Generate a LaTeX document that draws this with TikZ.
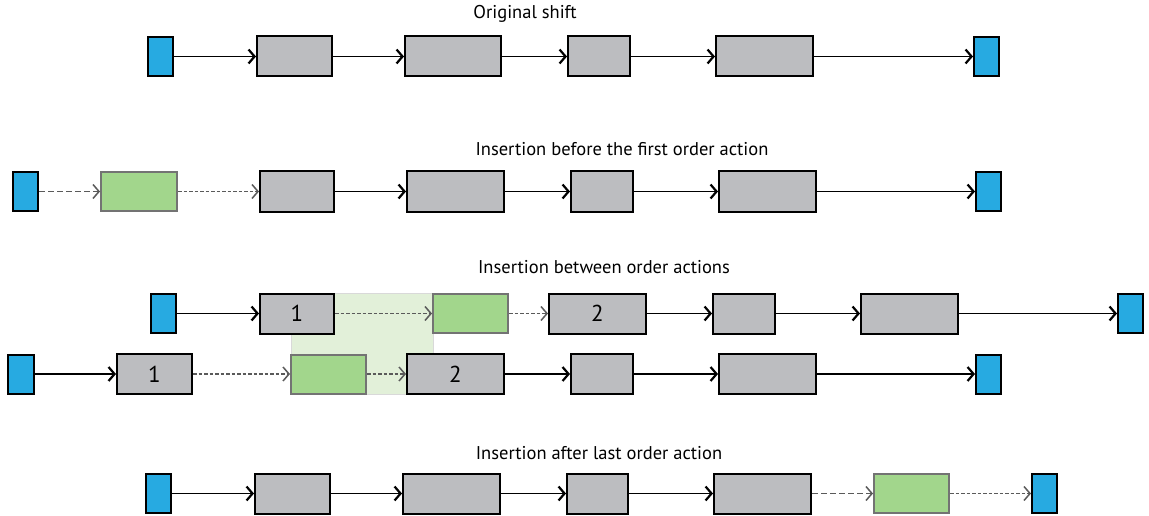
\documentclass[tikz,border=0pt]{standalone}
\usepackage{fontspec}
\setmainfont{PT Sans}
\usetikzlibrary{arrows.meta}
\definecolor{bblue}{HTML}{27AAE1}
\definecolor{bgray}{HTML}{BCBDC0}
\definecolor{bgreen}{HTML}{A2D68C}
\definecolor{bgbox}{HTML}{E2F0D9}
\definecolor{dgray}{HTML}{5A5A5A}
\tikzset{
  base/.style={rectangle, inner sep=0pt, line width=2pt, draw=black},
  blu/.style={base, fill=bblue, minimum width=25, minimum height=39},
  gbox/.style={base, fill=bgray, minimum height=40, font=\fontsize{23}{25}\selectfont},
  grn/.style={base, fill=bgreen, draw=black!55, minimum width=75, minimum height=39},
  title/.style={font=\fontsize{18.5}{20}\selectfont, inner sep=0pt},
  arr/.style={line width=1.8pt, -{Straight Barb[length=6pt,width=14pt,line width=2.2pt]}},
  darr/.style={line width=1.5pt, draw=dgray, dash pattern=on 5.5pt off 3.5pt, -{Straight Barb[length=6pt,width=14pt,line width=1.5pt]}},
  farr/.style={line width=1.5pt, draw=dgray, dash pattern=on 3.5pt off 2pt, -{Straight Barb[length=6pt,width=14pt,line width=1.5pt]}},
}
\begin{document}
\begin{tikzpicture}[x=1pt,y=-1pt]
\useasboundingbox (0,0) rectangle (1149,516);
% titles
\node[title] (t1) at (525,14) {Original shift};
\node[title] (t2) at (622,149) {Insertion before the first order action};
\node[title] (t3) at (604,267) {Insertion between order actions};
\node[title] (t4) at (599,453) {Insertion after last order action};
% row 1
\node[blu] (a0) at (160.5,56.5) {};
\node[gbox, minimum width=75] (a1) at (294.5,56.5) {};
\node[gbox, minimum width=96] (a2) at (453,56.5) {};
\node[gbox, minimum width=62] (a3) at (599,56.5) {};
\node[gbox, minimum width=97] (a4) at (764.5,56.5) {};
\node[blu] (a5) at (986.5,56.5) {};
\draw[arr] (a0) -- (a1);
\draw[arr] (a1) -- (a2);
\draw[arr] (a2) -- (a3);
\draw[arr] (a3) -- (a4);
\draw[arr] (a4) -- (a5);
% row 2
\node[blu] (b0) at (25.5,191.5) {};
\node[grn, minimum width=76] (bn) at (139,191.5) {};
\node[gbox, minimum width=74] (b1) at (297,191.5) {};
\node[gbox, minimum width=97] (b2) at (455.5,191.5) {};
\node[gbox, minimum width=62] (b3) at (602,191.5) {};
\node[gbox, minimum width=97] (b4) at (767.5,191.5) {};
\node[blu] (b5) at (988.5,191.5) {};
\draw[darr] (b0) -- (bn);
\draw[farr] (bn) -- (b1);
\draw[arr] (b1) -- (b2);
\draw[arr] (b2) -- (b3);
\draw[arr] (b3) -- (b4);
\draw[arr] (b4) -- (b5);
% background highlight
\node[rectangle, fill=bgbox, draw=black!15, line width=1pt, minimum width=142, minimum height=101, inner sep=0pt] (hl) at (362,343.5) {};
% row 3a
\node[blu] (c0) at (163.5,313.5) {};
\node[gbox, minimum width=74] (c1) at (297,313.5) {1};
\node[grn] (cn) at (470.5,313.5) {};
\node[gbox, minimum width=97] (c2) at (597.5,313.5) {2};
\node[gbox, minimum width=62] (c3) at (744,313.5) {};
\node[gbox, minimum width=97] (c4) at (909.5,313.5) {};
\node[blu] (c5) at (1130.5,313.5) {};
\draw[arr] (c0) -- (c1);
\draw[farr] (c1) -- (cn);
\draw[farr] (cn) -- (c2);
\draw[arr] (c2) -- (c3);
\draw[arr] (c3) -- (c4);
\draw[arr] (c4) -- (c5);
% row 3b
\node[blu, minimum width=26] (d0) at (21,374) {};
\node[gbox, minimum width=75] (d1) at (154.5,374) {1};
\node[grn] (dn) at (328.5,374) {};
\node[gbox, minimum width=97] (d2) at (455.5,374) {2};
\node[gbox, minimum width=62] (d3) at (602,374) {};
\node[gbox, minimum width=97] (d4) at (767.5,374) {};
\node[blu] (d5) at (988.5,374) {};
\draw[arr] (d0) -- (d1);
\draw[farr] (d1) -- (dn);
\draw[farr] (dn) -- (d2);
\draw[arr] (d2) -- (d3);
\draw[arr] (d3) -- (d4);
\draw[arr] (d4) -- (d5);
% row 4
\node[blu] (e0) at (158.5,493.5) {};
\node[gbox, minimum width=75] (e1) at (292.5,493.5) {};
\node[gbox, minimum width=97] (e2) at (451.5,493.5) {};
\node[gbox, minimum width=61] (e3) at (597.5,493.5) {};
\node[gbox, minimum width=97] (e4) at (762.5,493.5) {};
\node[grn] (en) at (911.5,493.5) {};
\node[blu] (e5) at (1044.5,493.5) {};
\draw[arr] (e0) -- (e1);
\draw[arr] (e1) -- (e2);
\draw[arr] (e2) -- (e3);
\draw[arr] (e3) -- (e4);
\draw[darr] (e4) -- (en);
\draw[farr] (en) -- (e5);
\end{tikzpicture}
\end{document}
